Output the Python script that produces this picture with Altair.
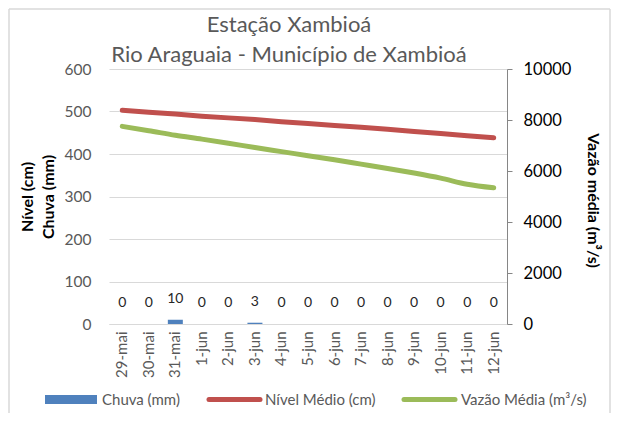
import altair as alt
import pandas as pd

datas = ["29-mai", "30-mai", "31-mai", "1-jun", "2-jun", "3-jun", "4-jun", "5-jun",
         "6-jun", "7-jun", "8-jun", "9-jun", "10-jun", "11-jun", "12-jun"]
chuva = [0, 0, 10, 0, 0, 3, 0, 0, 0, 0, 0, 0, 0, 0, 0]
nivel = [503, 498, 494, 489, 485, 481, 476, 472, 467, 463, 458, 453, 448, 443, 438]
vazao = [7750, 7580, 7400, 7250, 7090, 6920, 6760, 6600, 6440, 6270, 6100, 5920, 5720, 5480, 5340]
titulo = ["Estação Xambioá", "Rio Araguaia - Município de Xambioá"]

df = pd.DataFrame({"data": datas, "chuva": chuva, "nivel": nivel, "vazao": vazao})

FONT = "Lato"
GRAY = "#595959"
BLUE = "#4F81BD"
RED = "#C0504D"
GREEN = "#9BBB59"

xenc = alt.X("data:N", sort=datas, title=None,
             scale=alt.Scale(paddingInner=0, paddingOuter=0),
             axis=alt.Axis(labelAngle=-90, labelAlign="right", labelBaseline="middle",
                           labelPadding=7, ticks=False, domainColor="#D9D9D9",
                           labelColor=GRAY, labelFontSize=15, labelFont=FONT))

left_scale = alt.Scale(domain=[0, 600], nice=False)

bars = alt.Chart(df).mark_bar(size=15, color=BLUE).encode(
    x=xenc,
    y=alt.Y("chuva:Q", scale=left_scale,
            axis=alt.Axis(values=[0, 100, 200, 300, 400, 500, 600], grid=True,
                          gridColor="#D9D9D9", domain=False, ticks=False, tickSize=0,
                          labelPadding=18, labelColor=GRAY, labelFontSize=15.5, labelFont=FONT,
                          title=["Nível (cm)", "Chuva (mm)"], titleFont=FONT,
                          titleFontSize=16, titleFontWeight="bold", titleColor="#000000",
                          titleLineHeight=21, titleX=-82, titleY=127.5,
                          titleAlign="center", titleBaseline="middle")),
)

labels = alt.Chart(df).mark_text(dy=-21, baseline="middle", font=FONT, fontSize=14,
                                 color="#262626").encode(
    x=alt.X("data:N", sort=datas),
    y=alt.Y("chuva:Q", scale=left_scale),
    text=alt.Text("chuva:Q"),
)

nivel_line = alt.Chart(df).mark_line(color=RED, strokeWidth=5, strokeCap="round").encode(
    x=alt.X("data:N", sort=datas),
    y=alt.Y("nivel:Q", scale=left_scale),
)

left = alt.layer(bars, labels, nivel_line)

vazao_line = alt.Chart(df).mark_line(color=GREEN, strokeWidth=5, strokeCap="round",
                                     interpolate="monotone").encode(
    x=alt.X("data:N", sort=datas),
    y=alt.Y("vazao:Q", scale=alt.Scale(domain=[0, 10000], nice=False),
            axis=alt.Axis(orient="right", values=[0, 2000, 4000, 6000, 8000, 10000],
                          format="d",
                          grid=False, domainColor="#868686", tickColor="#868686",
                          tickSize=5, labelPadding=11, labelColor="#000000",
                          labelFontSize=16.5, labelFont=FONT,
                          title="Vazão média (m³/s)", titleFont=FONT, titleFontSize=16,
                          titleFontWeight="bold", titleColor="#000000",
                          titleX=85, titleY=131, titleAlign="center",
                          titleBaseline="middle")),
)

one = alt.Data(values=[{"k": 1}])

title1 = alt.Chart(one).mark_text(align="center", baseline="alphabetic", font=FONT,
                                  fontSize=22, color=GRAY, text=titulo[0]).encode(
    x=alt.value(180), y=alt.value(-37))
title2 = alt.Chart(one).mark_text(align="center", baseline="alphabetic", font=FONT,
                                  fontSize=22, color=GRAY, text=titulo[1]).encode(
    x=alt.value(180), y=alt.value(-7))

leg_chuva_sym = alt.Chart(one).mark_rect(color=BLUE).encode(
    x=alt.value(-64), x2=alt.value(-12), y=alt.value(326), y2=alt.value(335))
leg_chuva_txt = alt.Chart(one).mark_text(align="left", baseline="middle", font=FONT,
                                         fontSize=15, color=GRAY, text="Chuva (mm)").encode(
    x=alt.value(-7), y=alt.value(330.5))
leg_nivel_sym = alt.Chart(one).mark_rule(color=RED, strokeWidth=5, strokeCap="round").encode(
    x=alt.value(100), x2=alt.value(151), y=alt.value(330.5))
leg_nivel_txt = alt.Chart(one).mark_text(align="left", baseline="middle", font=FONT,
                                         fontSize=15, color=GRAY,
                                         text="Nível Médio (cm)").encode(
    x=alt.value(156), y=alt.value(330.5))
leg_vazao_sym = alt.Chart(one).mark_rule(color=GREEN, strokeWidth=5, strokeCap="round").encode(
    x=alt.value(295), x2=alt.value(346), y=alt.value(330.5))
leg_vazao_txt = alt.Chart(one).mark_text(align="left", baseline="middle", font=FONT,
                                         fontSize=15, color=GRAY,
                                         text="Vazão Média (m³/s)").encode(
    x=alt.value(352), y=alt.value(330.5))

border_l = alt.Chart(one).mark_rule(color="#D9D9D9", strokeWidth=1.5).encode(
    x=alt.value(-100), y=alt.value(-60), y2=alt.value(345))
border_t = alt.Chart(one).mark_rule(color="#D9D9D9", strokeWidth=1.5).encode(
    x=alt.value(-100), x2=alt.value(501), y=alt.value(-60))
border_r = alt.Chart(one).mark_rule(color="#D9D9D9", strokeWidth=1.5).encode(
    x=alt.value(501), y=alt.value(-60), y2=alt.value(345))

chart = alt.layer(
    left, vazao_line, title1, title2,
    leg_chuva_sym, leg_chuva_txt, leg_nivel_sym, leg_nivel_txt, leg_vazao_sym, leg_vazao_txt,
    border_l, border_t, border_r,
).resolve_scale(y="independent").properties(
    width=398, height=255,
    autosize=alt.AutoSizeParams(type="none"),
    padding={"left": 101, "top": 61, "right": 104, "bottom": 89},
).configure_view(stroke=None)

chart.save("out.html", embed_options={"renderer": "svg", "actions": False})
